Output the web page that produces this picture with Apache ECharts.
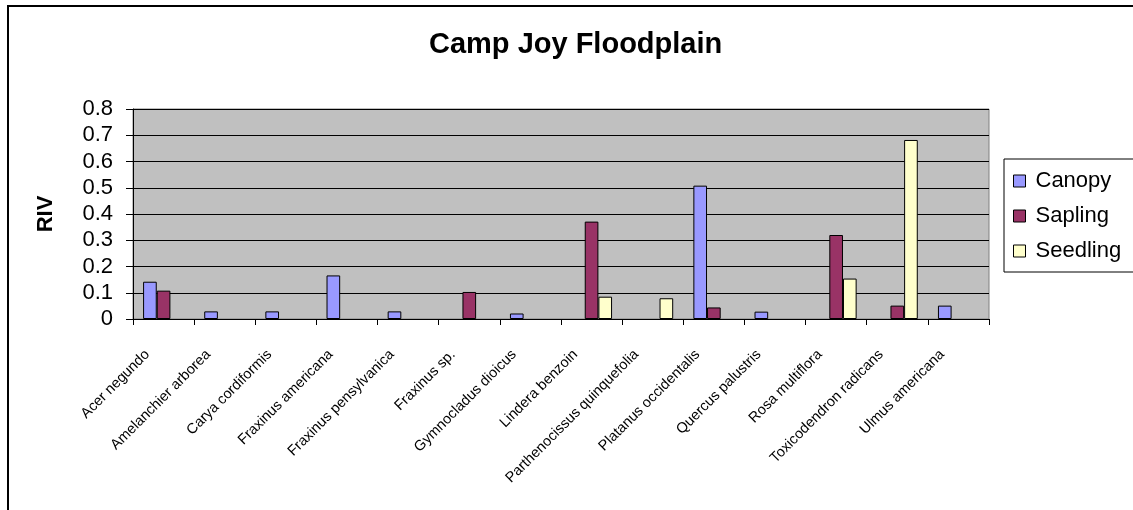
<!DOCTYPE html>
<html>
<head>
<meta charset="utf-8">
<style>
  html, body { margin: 0; padding: 0; background: #ffffff; }
  #chart { width: 1133px; height: 510px; }
</style>
<script src="https://cdn.jsdelivr.net/npm/echarts@6/dist/echarts.min.js"></script>
</head>
<body>
<div id="chart"></div>
<script>
// Relative importance values (RIV) by species and stratum
const species = [
  'Acer negundo', 'Amelanchier arborea', 'Carya cordiformis', 'Fraxinus americana',
  'Fraxinus pensylvanica', 'Fraxinus sp.', 'Gymnocladus dioicus', 'Lindera benzoin',
  'Parthenocissus quinquefolia', 'Platanus occidentalis', 'Quercus palustris',
  'Rosa multiflora', 'Toxicodendron radicans', 'Ulmus americana'
];
const canopy   = [0.142, 0.029, 0.029, 0.166, 0.029, null, 0.021, null, null, 0.508, 0.028, null, null, 0.051];
const sapling  = [0.108, null, null, null, null, 0.103, null, 0.371, null, 0.044, null, 0.320, 0.051, null];
const seedling = [null, null, null, null, null, null, null, 0.085, 0.079, null, null, 0.154, 0.682, null];
const seriesNames = ['Canopy', 'Sapling', 'Seedling'];
const yTicks = [0, 0.1, 0.2, 0.3, 0.4, 0.5, 0.6, 0.7, 0.8];

const FONT = '"Liberation Sans", Arial, sans-serif';
const colors = ['#9999FF', '#993366', '#FFFFCC'];

const chart = echarts.init(document.getElementById('chart'), null, { renderer: 'canvas' });

function barSeries(name, data, color) {
  return {
    name: name,
    type: 'bar',
    data: data,
    barGap: '0%',
    barCategoryGap: '33%',
    itemStyle: { color: color, borderColor: '#000000', borderWidth: 1 },
    emphasis: { disabled: true }
  };
}

chart.setOption({
  animation: false,
  backgroundColor: '#ffffff',
  color: colors,
  title: {
    text: 'Camp Joy Floodplain',
    left: 429,
    top: 30,
    padding: 0,
    textStyle: { fontFamily: FONT, fontSize: 29, fontWeight: 'bold', color: '#000000' }
  },
  legend: {
    orient: 'vertical',
    left: 1004,
    top: 159,
    padding: [11, 70, 10, 9],
    itemGap: 13,
    itemWidth: 12,
    itemHeight: 12,
    icon: 'rect',
    borderColor: '#000000',
    borderWidth: 1,
    itemStyle: { borderColor: '#000000', borderWidth: 1 },
    textStyle: { fontFamily: FONT, fontSize: 22, lineHeight: 22, color: '#000000', padding: [0, 0, 0, 5] },
    data: seriesNames
  },
  grid: {
    left: 133,
    right: 144,
    top: 109,
    bottom: 191,
    show: true,
    backgroundColor: '#C0C0C0',
    borderColor: '#808080',
    borderWidth: 1
  },
  xAxis: {
    type: 'category',
    data: species,
    boundaryGap: true,
    axisLine: { lineStyle: { color: '#000000', width: 1 } },
    axisTick: { show: true, length: 6, lineStyle: { color: '#000000' } },
    axisLabel: {
      rotate: 45,
      interval: 0,
      margin: 17,
      padding: [0, 23, 0, 0],
      fontFamily: FONT,
      fontSize: 14.5,
      color: '#000000'
    },
    splitLine: { show: false }
  },
  yAxis: {
    type: 'value',
    min: yTicks[0],
    max: yTicks[yTicks.length - 1],
    interval: 0.1,
    name: 'RIV',
    nameLocation: 'middle',
    nameGap: 76,
    nameTextStyle: { fontFamily: FONT, fontSize: 22, fontWeight: 'bold', color: '#000000' },
    axisLine: { show: true, lineStyle: { color: '#000000', width: 1 } },
    axisTick: { show: true, length: 7, lineStyle: { color: '#000000' } },
    axisLabel: {
      margin: 20,
      fontFamily: FONT,
      fontSize: 22,
      color: '#000000',
      formatter: function (v) { return String(Math.round(v * 10) / 10); }
    },
    splitLine: { show: true, lineStyle: { color: '#000000', width: 1 } }
  },
  graphic: [{
    type: 'rect',
    shape: { x: 8, y: 6, width: 1300, height: 700 },
    style: { fill: null, stroke: '#000000', lineWidth: 2 },
    silent: true,
    z: 100
  }],
  series: [
    barSeries(seriesNames[0], canopy, colors[0]),
    barSeries(seriesNames[1], sapling, colors[1]),
    barSeries(seriesNames[2], seedling, colors[2])
  ]
});
</script>
</body>
</html>
